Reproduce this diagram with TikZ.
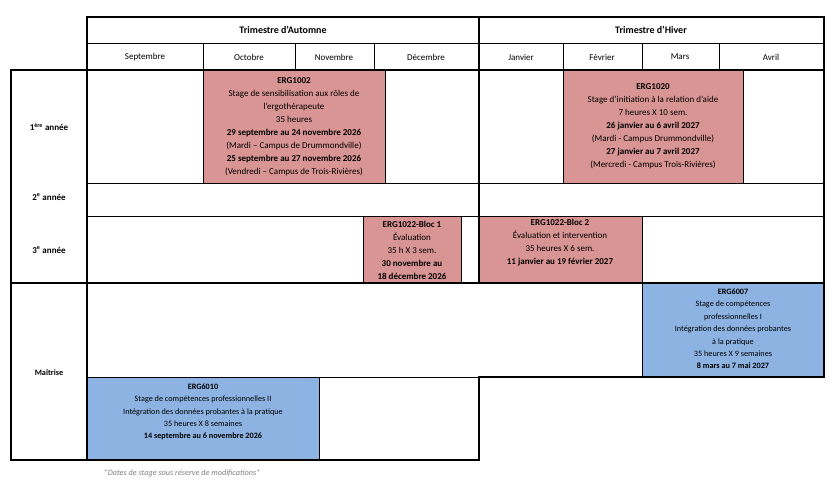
\documentclass[tikz,border=0pt]{standalone}
\usepackage{fontspec}
\setmainfont{Carlito}
\begin{document}
\begin{tikzpicture}[x=1pt,y=-1pt,
  thin line/.style={line width=0.6pt},
  thick line/.style={line width=1.6pt},
  txt/.style={align=center,font=\fontsize{9}{13}\selectfont,inner sep=0pt},
  small/.style={align=center,font=\fontsize{8.2}{12.4}\selectfont,inner sep=0pt},
  redbox/.style={fill=red!45!gray!10!white,draw=none},
]
\definecolor{rosec}{HTML}{D99594}
\definecolor{bluec}{HTML}{8DB3E2}
\useasboundingbox (0,0) rectangle (834,484);
% fills
\fill[rosec] (203,70) rectangle (385,183);
\fill[rosec] (563,70) rectangle (743,183);
\fill[rosec] (363,216) rectangle (461,283);
\fill[rosec] (479,216) rectangle (642,283);
\fill[bluec] (642,283) rectangle (824,377);
\fill[bluec] (87,377) rectangle (319,460);
% thin lines
\draw[thin line] (87,43) -- (824,43);
\foreach \x in {203,295,374,563,642,719} \draw[thin line] (\x,43) -- (\x,70);
\draw[thin line] (87,70) -- (824,70);
\draw[thin line] (87,183) -- (824,183);
\draw[thin line] (87,216) -- (824,216);
\draw[thin line] (203,70) -- (203,183) (385,70) -- (385,183);
\draw[thin line] (563,70) -- (563,183) (743,70) -- (743,183);
\draw[thin line] (363,216) -- (363,283) (461,216) -- (461,283) (642,216) -- (642,283);
\draw[thin line] (642,283) -- (642,377);
\draw[thin line] (87,377) -- (479,377) (319,377) -- (319,460);
% thick lines
\draw[thick line] (87,17) rectangle (824,70);
\draw[thick line] (479,17) -- (479,283);
\draw[thick line] (11,70) -- (824,70) -- (824,283) -- (11,283) -- cycle;
\draw[thick line] (87,70) -- (87,460);
\draw[thick line] (11,283) -- (11,460) -- (479,460) -- (479,377) -- (824,377) -- (824,283);
% headers
\node[txt,font=\fontsize{10}{13}\selectfont\bfseries] (ta) at (283,30) {Trimestre d’Automne};
\node[txt,font=\fontsize{10}{13}\selectfont\bfseries] (th) at (651,30) {Trimestre d’Hiver};
\node[txt] (m1) at (145,57) {Septembre};
\node[txt] (m2) at (249,57) {Octobre};
\node[txt] (m3) at (334,57) {Novembre};
\node[txt] (m4) at (426,57) {Décembre};
\node[txt] (m5) at (521,57) {Janvier};
\node[txt] (m6) at (602,57) {Février};
\node[txt] (m7) at (680,57) {Mars};
\node[txt] (m8) at (771,57) {Avril};
% row labels
\node[txt,font=\fontsize{9}{13}\selectfont\bfseries] (y1) at (49,127) {1\textsuperscript{ère} année};
\node[txt,font=\fontsize{9}{13}\selectfont\bfseries] (y2) at (49,197) {2\textsuperscript{e} année};
\node[txt,font=\fontsize{9}{13}\selectfont\bfseries] (y3) at (49,250) {3\textsuperscript{e} année};
\node[small,font=\fontsize{8.2}{12}\selectfont\bfseries] (ym) at (49,373) {Maîtrise};
% boxes text
\node[txt] (e1) at (294,127) {\textbf{ERG1002}\\Stage de sensibilisation aux rôles de\\l’ergothérapeute\\35 heures\\\textbf{29 septembre au 24 novembre 2026}\\(Mardi – Campus de Drummondville)\\\textbf{25 septembre au 27 novembre 2026}\\(Vendredi – Campus de Trois-Rivières)};
\node[txt] (e2) at (653,126) {\textbf{ERG1020}\\Stage d’initiation à la relation d’aide\\7 heures X 10 sem.\\\textbf{26 janvier au 6 avril 2027}\\(Mardi - Campus Drummondville)\\\textbf{27 janvier au 7 avril 2027}\\(Mercredi - Campus Trois-Rivières)};
\node[txt] (e3) at (412,250) {\textbf{ERG1022-Bloc 1}\\Évaluation\\35 h X 3 sem.\\\textbf{30 novembre au}\\\textbf{18 décembre 2026}};
\node[txt] (e4) at (560,243) {\textbf{ERG1022-Bloc 2}\\Évaluation et intervention\\35 heures X 6 sem.\\\textbf{11 janvier au 19 février 2027}};
\node[small] (e5) at (733,329) {\textbf{ERG6007}\\Stage de compétences\\professionnelles I\\Intégration des données probantes\\à la pratique\\35 heures X 9 semaines\\\textbf{8 mars au 7 mai 2027}};
\node[small] (e6) at (203,412) {\textbf{ERG6010}\\Stage de compétences professionnelles II\\Intégration des données probantes à la pratique\\35 heures X 8 semaines\\\textbf{14 septembre au 6 novembre 2026}};
\node[small,text=gray,font=\fontsize{8.2}{12}\selectfont\itshape] (note) at (182,473) {*Dates de stage sous réserve de modifications*};
\end{tikzpicture}
\end{document}
